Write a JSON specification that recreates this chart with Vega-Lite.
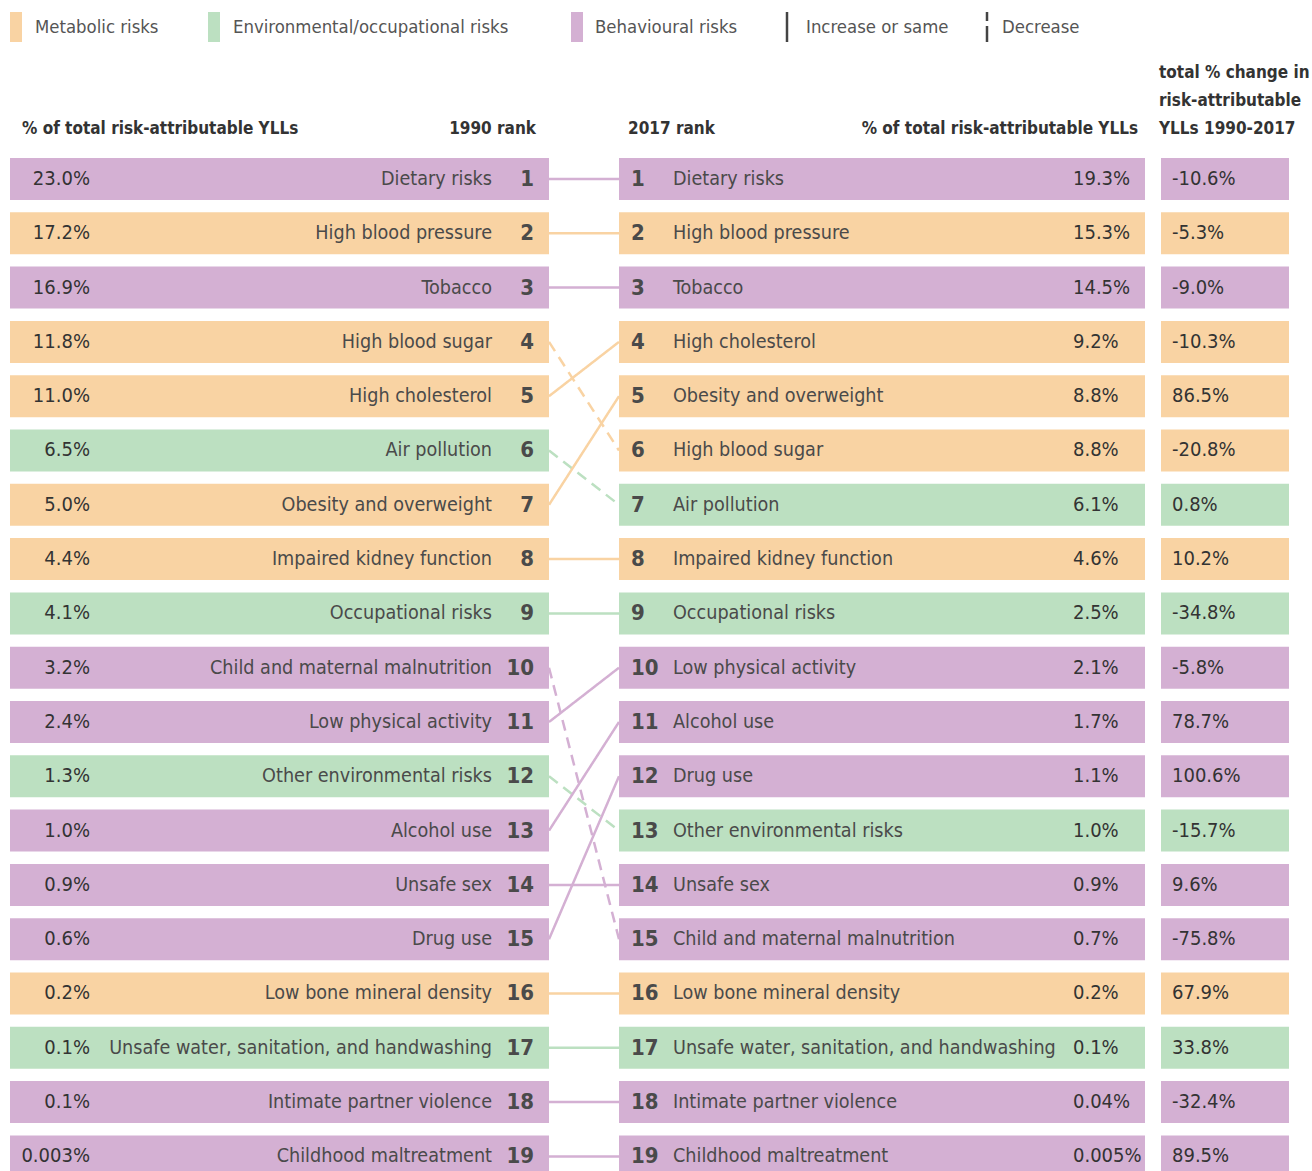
{
  "$schema": "https://vega.github.io/schema/vega-lite/v6.json",
  "width": 1312,
  "height": 1171,
  "autosize": "none",
  "padding": 0,
  "background": "white",
  "config": {"view": {"stroke": null}, "axis": {"disable": true}, "scale": {"continuousPadding": 0}},
  "data": {"values": [
    {"risk":"Dietary risks","cat":"Behavioural risks","r1990":1,"p1990":"23.0%","r2017":1,"p2017":"19.3%","change":"-10.6%","dir":"Increase or same"},
    {"risk":"High blood pressure","cat":"Metabolic risks","r1990":2,"p1990":"17.2%","r2017":2,"p2017":"15.3%","change":"-5.3%","dir":"Increase or same"},
    {"risk":"Tobacco","cat":"Behavioural risks","r1990":3,"p1990":"16.9%","r2017":3,"p2017":"14.5%","change":"-9.0%","dir":"Increase or same"},
    {"risk":"High blood sugar","cat":"Metabolic risks","r1990":4,"p1990":"11.8%","r2017":6,"p2017":"8.8%","change":"-20.8%","dir":"Decrease"},
    {"risk":"High cholesterol","cat":"Metabolic risks","r1990":5,"p1990":"11.0%","r2017":4,"p2017":"9.2%","change":"-10.3%","dir":"Increase or same"},
    {"risk":"Air pollution","cat":"Environmental/occupational risks","r1990":6,"p1990":"6.5%","r2017":7,"p2017":"6.1%","change":"0.8%","dir":"Decrease"},
    {"risk":"Obesity and overweight","cat":"Metabolic risks","r1990":7,"p1990":"5.0%","r2017":5,"p2017":"8.8%","change":"86.5%","dir":"Increase or same"},
    {"risk":"Impaired kidney function","cat":"Metabolic risks","r1990":8,"p1990":"4.4%","r2017":8,"p2017":"4.6%","change":"10.2%","dir":"Increase or same"},
    {"risk":"Occupational risks","cat":"Environmental/occupational risks","r1990":9,"p1990":"4.1%","r2017":9,"p2017":"2.5%","change":"-34.8%","dir":"Increase or same"},
    {"risk":"Child and maternal malnutrition","cat":"Behavioural risks","r1990":10,"p1990":"3.2%","r2017":15,"p2017":"0.7%","change":"-75.8%","dir":"Decrease"},
    {"risk":"Low physical activity","cat":"Behavioural risks","r1990":11,"p1990":"2.4%","r2017":10,"p2017":"2.1%","change":"-5.8%","dir":"Increase or same"},
    {"risk":"Other environmental risks","cat":"Environmental/occupational risks","r1990":12,"p1990":"1.3%","r2017":13,"p2017":"1.0%","change":"-15.7%","dir":"Decrease"},
    {"risk":"Alcohol use","cat":"Behavioural risks","r1990":13,"p1990":"1.0%","r2017":11,"p2017":"1.7%","change":"78.7%","dir":"Increase or same"},
    {"risk":"Unsafe sex","cat":"Behavioural risks","r1990":14,"p1990":"0.9%","r2017":14,"p2017":"0.9%","change":"9.6%","dir":"Increase or same"},
    {"risk":"Drug use","cat":"Behavioural risks","r1990":15,"p1990":"0.6%","r2017":12,"p2017":"1.1%","change":"100.6%","dir":"Increase or same"},
    {"risk":"Low bone mineral density","cat":"Metabolic risks","r1990":16,"p1990":"0.2%","r2017":16,"p2017":"0.2%","change":"67.9%","dir":"Increase or same"},
    {"risk":"Unsafe water, sanitation, and handwashing","cat":"Environmental/occupational risks","r1990":17,"p1990":"0.1%","r2017":17,"p2017":"0.1%","change":"33.8%","dir":"Increase or same"},
    {"risk":"Intimate partner violence","cat":"Behavioural risks","r1990":18,"p1990":"0.1%","r2017":18,"p2017":"0.04%","change":"-32.4%","dir":"Increase or same"},
    {"risk":"Childhood maltreatment","cat":"Behavioural risks","r1990":19,"p1990":"0.003%","r2017":19,"p2017":"0.005%","change":"89.5%","dir":"Increase or same"}
  ]},
  "layer": [
    {
      "mark": {"type": "bar", "orient": "horizontal", "size": 42, "clip": true},
      "encoding": {
        "x": {"datum": 10, "type": "quantitative", "scale": {"domain": [0, 1312], "nice": false, "zero": false, "padding": 0}, "axis": null},
        "x2": {"datum": 549},
        "y": {"field": "r1990", "type": "quantitative", "scale": {"domain": [-2.2965, 19.269], "nice": false, "zero": false, "reverse": true, "padding": 0}, "axis": null},
        "color": {"field": "cat", "type": "nominal", "scale": {"domain": ["Metabolic risks", "Environmental/occupational risks", "Behavioural risks"], "range": ["#F9D3A3", "#BCE0C1", "#D4B0D3"]}, "legend": null}
      }
    },
    {
      "mark": {"type": "bar", "orient": "horizontal", "size": 42, "clip": true},
      "encoding": {
        "x": {"datum": 619, "type": "quantitative"},
        "x2": {"datum": 1145},
        "y": {"field": "r2017", "type": "quantitative"},
        "color": {"field": "cat", "type": "nominal", "legend": null}
      }
    },
    {
      "mark": {"type": "bar", "orient": "horizontal", "size": 42, "clip": true},
      "encoding": {
        "x": {"datum": 1161, "type": "quantitative"},
        "x2": {"datum": 1289},
        "y": {"field": "r2017", "type": "quantitative"},
        "color": {"field": "cat", "type": "nominal", "legend": null}
      }
    },
    {
      "mark": {"type": "rule", "strokeWidth": 2.5},
      "encoding": {
        "x": {"datum": 549, "type": "quantitative"},
        "x2": {"datum": 619},
        "y": {"field": "r1990", "type": "quantitative"},
        "y2": {"field": "r2017"},
        "color": {"field": "cat", "type": "nominal", "legend": null},
        "strokeDash": {"field": "dir", "type": "nominal", "scale": {"domain": ["Increase or same", "Decrease"], "range": [[1, 0], [11, 7]]}, "legend": null}
      }
    },
    {
      "mark": {"type": "text", "align": "right", "baseline": "middle", "font": "DejaVu Sans Condensed, Roboto", "fontSize": 20, "color": "#333333"},
      "encoding": {
        "x": {"datum": 90, "type": "quantitative"},
        "y": {"field": "r1990", "type": "quantitative"},
        "text": {"field": "p1990"}
      }
    },
    {
      "mark": {"type": "text", "align": "right", "baseline": "middle", "font": "DejaVu Sans Condensed, Roboto", "fontSize": 19.6, "color": "#4a4a4a"},
      "encoding": {
        "x": {"datum": 492, "type": "quantitative"},
        "y": {"field": "r1990", "type": "quantitative"},
        "text": {"field": "risk"}
      }
    },
    {
      "mark": {"type": "text", "align": "right", "baseline": "middle", "font": "DejaVu Sans Condensed, Roboto", "fontSize": 22, "fontWeight": "bold", "color": "#4a4a4a"},
      "encoding": {
        "x": {"datum": 534, "type": "quantitative"},
        "y": {"field": "r1990", "type": "quantitative"},
        "text": {"field": "r1990"}
      }
    },
    {
      "mark": {"type": "text", "align": "left", "baseline": "middle", "font": "DejaVu Sans Condensed, Roboto", "fontSize": 22, "fontWeight": "bold", "color": "#4a4a4a"},
      "encoding": {
        "x": {"datum": 631, "type": "quantitative"},
        "y": {"field": "r2017", "type": "quantitative"},
        "text": {"field": "r2017"}
      }
    },
    {
      "mark": {"type": "text", "align": "left", "baseline": "middle", "font": "DejaVu Sans Condensed, Roboto", "fontSize": 19.6, "color": "#4a4a4a"},
      "encoding": {
        "x": {"datum": 673, "type": "quantitative"},
        "y": {"field": "r2017", "type": "quantitative"},
        "text": {"field": "risk"}
      }
    },
    {
      "mark": {"type": "text", "align": "left", "baseline": "middle", "font": "DejaVu Sans Condensed, Roboto", "fontSize": 20, "color": "#333333"},
      "encoding": {
        "x": {"datum": 1073, "type": "quantitative"},
        "y": {"field": "r2017", "type": "quantitative"},
        "text": {"field": "p2017"}
      }
    },
    {
      "mark": {"type": "text", "align": "left", "baseline": "middle", "font": "DejaVu Sans Condensed, Roboto", "fontSize": 20, "color": "#333333"},
      "encoding": {
        "x": {"datum": 1172, "type": "quantitative"},
        "y": {"field": "r2017", "type": "quantitative"},
        "text": {"field": "change"}
      }
    },
    {
      "data": {"values": [{}]},
      "mark": {"type": "text", "align": "left", "baseline": "middle", "font": "DejaVu Sans Condensed, Roboto", "fontSize": 17, "fontWeight": "bold", "color": "#333333", "text": "% of total risk-attributable YLLs"},
      "encoding": {"x": {"datum": 22, "type": "quantitative"}, "y": {"datum": 0.0792, "type": "quantitative"}}
    },
    {
      "data": {"values": [{}]},
      "mark": {"type": "text", "align": "right", "baseline": "middle", "font": "DejaVu Sans Condensed, Roboto", "fontSize": 17, "fontWeight": "bold", "color": "#333333", "text": "1990 rank"},
      "encoding": {"x": {"datum": 536, "type": "quantitative"}, "y": {"datum": 0.0792, "type": "quantitative"}}
    },
    {
      "data": {"values": [{}]},
      "mark": {"type": "text", "align": "left", "baseline": "middle", "font": "DejaVu Sans Condensed, Roboto", "fontSize": 17, "fontWeight": "bold", "color": "#333333", "text": "2017 rank"},
      "encoding": {"x": {"datum": 628, "type": "quantitative"}, "y": {"datum": 0.0792, "type": "quantitative"}}
    },
    {
      "data": {"values": [{}]},
      "mark": {"type": "text", "align": "right", "baseline": "middle", "font": "DejaVu Sans Condensed, Roboto", "fontSize": 17, "fontWeight": "bold", "color": "#333333", "text": "% of total risk-attributable YLLs"},
      "encoding": {"x": {"datum": 1138, "type": "quantitative"}, "y": {"datum": 0.0792, "type": "quantitative"}}
    },
    {
      "data": {"values": [{}]},
      "mark": {"type": "text", "align": "left", "baseline": "middle", "font": "DejaVu Sans Condensed, Roboto", "fontSize": 17, "fontWeight": "bold", "color": "#333333", "lineHeight": 28, "text": ["total % change in", "risk-attributable", "YLLs 1990-2017"]},
      "encoding": {"x": {"datum": 1159, "type": "quantitative"}, "y": {"datum": -0.952, "type": "quantitative"}}
    },
    {
      "data": {"values": [{}]},
      "mark": {"type": "rect"},
      "encoding": {"x": {"datum": 10, "type": "quantitative"}, "x2": {"datum": 22}, "y": {"datum": -2.0755, "type": "quantitative"}, "y2": {"datum": -1.523}, "color": {"datum": "Metabolic risks", "type": "nominal", "legend": null}}
    },
    {
      "data": {"values": [{}]},
      "mark": {"type": "rect"},
      "encoding": {"x": {"datum": 208, "type": "quantitative"}, "x2": {"datum": 220}, "y": {"datum": -2.0755, "type": "quantitative"}, "y2": {"datum": -1.523}, "color": {"datum": "Environmental/occupational risks", "type": "nominal", "legend": null}}
    },
    {
      "data": {"values": [{}]},
      "mark": {"type": "rect"},
      "encoding": {"x": {"datum": 571, "type": "quantitative"}, "x2": {"datum": 583}, "y": {"datum": -2.0755, "type": "quantitative"}, "y2": {"datum": -1.523}, "color": {"datum": "Behavioural risks", "type": "nominal", "legend": null}}
    },
    {
      "data": {"values": [{}]},
      "mark": {"type": "rule", "strokeWidth": 2.5, "color": "#444444"},
      "encoding": {"x": {"datum": 787, "type": "quantitative"}, "y": {"datum": -2.0755, "type": "quantitative"}, "y2": {"datum": -1.523}}
    },
    {
      "data": {"values": [{}]},
      "mark": {"type": "rule", "strokeWidth": 2.5, "color": "#444444", "strokeDash": [9, 5, 40]},
      "encoding": {"x": {"datum": 987, "type": "quantitative"}, "y": {"datum": -2.0755, "type": "quantitative"}, "y2": {"datum": -1.523}}
    },
    {
      "data": {"values": [{}]},
      "mark": {"type": "text", "align": "left", "baseline": "middle", "font": "DejaVu Sans Condensed, Roboto", "fontSize": 18.4, "color": "#555555", "text": "Metabolic risks"},
      "encoding": {"x": {"datum": 35, "type": "quantitative"}, "y": {"datum": -1.7993, "type": "quantitative"}}
    },
    {
      "data": {"values": [{}]},
      "mark": {"type": "text", "align": "left", "baseline": "middle", "font": "DejaVu Sans Condensed, Roboto", "fontSize": 18.4, "color": "#555555", "text": "Environmental/occupational risks"},
      "encoding": {"x": {"datum": 233, "type": "quantitative"}, "y": {"datum": -1.7993, "type": "quantitative"}}
    },
    {
      "data": {"values": [{}]},
      "mark": {"type": "text", "align": "left", "baseline": "middle", "font": "DejaVu Sans Condensed, Roboto", "fontSize": 18.4, "color": "#555555", "text": "Behavioural risks"},
      "encoding": {"x": {"datum": 595, "type": "quantitative"}, "y": {"datum": -1.7993, "type": "quantitative"}}
    },
    {
      "data": {"values": [{}]},
      "mark": {"type": "text", "align": "left", "baseline": "middle", "font": "DejaVu Sans Condensed, Roboto", "fontSize": 18.4, "color": "#555555", "text": "Increase or same"},
      "encoding": {"x": {"datum": 806, "type": "quantitative"}, "y": {"datum": -1.7993, "type": "quantitative"}}
    },
    {
      "data": {"values": [{}]},
      "mark": {"type": "text", "align": "left", "baseline": "middle", "font": "DejaVu Sans Condensed, Roboto", "fontSize": 18.4, "color": "#555555", "text": "Decrease"},
      "encoding": {"x": {"datum": 1002, "type": "quantitative"}, "y": {"datum": -1.7993, "type": "quantitative"}}
    }
  ]
}
